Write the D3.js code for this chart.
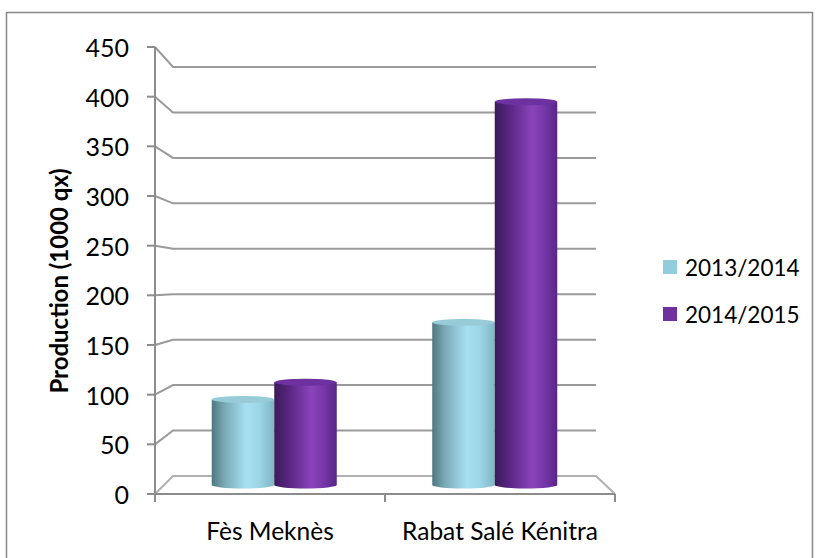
<!DOCTYPE html>
<html><head><meta charset="utf-8">
<script src="https://cdn.jsdelivr.net/npm/d3@7/dist/d3.min.js"></script>
<style>
html,body{margin:0;padding:0;background:#fff;}
svg{display:block;font-family:Lato,"Open Sans",sans-serif;}
</style></head>
<body>
<svg id="c" width="817" height="558"></svg>
<script>
const categories = ["Fès Meknès", "Rabat Salé Kénitra"];
const seriesNames = ["2013/2014", "2014/2015"];
const values2013 = [90, 171];
const values2014 = [108, 403];
const yTicks = [0, 50, 100, 150, 200, 250, 300, 350, 400, 450];
const yTitle = "Production (1000 qx)";

const seriesValues = [values2013, values2014];
const svg = d3.select("#c");

// frame
svg.append("rect").attr("x", 6.5).attr("y", 12.5).attr("width", 806).attr("height", 560)
  .attr("fill", "none").attr("stroke", "#878787").attr("stroke-width", 1.5);

const front = {x0: 155, x1: 615}, back = {x0: 173, x1: 596};
const yFront = d3.scaleLinear().domain([0, 450]).range([494, 47]);
const yBack = d3.scaleLinear().domain([0, 450]).range([476, 67]);
const yBar = d3.scaleLinear().domain([0, 450]).range([485, 57]);
const xFront = d3.scaleBand().domain(categories).range([front.x0, front.x1]);
const xBar = d3.scaleBand().domain(categories).range([164, 605]).paddingInner(0.433).paddingOuter(0.2165);
const xSub = d3.scaleBand().domain(seriesNames).range([0, xBar.bandwidth()]);

const gridCol = "#9a9a9a";
const g = svg.append("g");
yTicks.forEach(t => {
  if (t === 0) return;
  g.append("path")
    .attr("d", `M${front.x0},${yFront(t)}L${back.x0},${yBack(t)}L${back.x1},${yBack(t)}`)
    .attr("fill", "none").attr("stroke", gridCol).attr("stroke-width", 2);
});
g.append("path")
  .attr("d", `M${front.x0},${yFront(0)}L${back.x0},${yBack(0)}L${back.x1},${yBack(0)}L${front.x1},${yFront(0)}`)
  .attr("fill", "none").attr("stroke", "#b0b0b0").attr("stroke-width", 2);

const defs = svg.append("defs");
function grad(id, stops) {
  const lg = defs.append("linearGradient").attr("id", id).attr("x1", "0").attr("x2", "1").attr("y1", "0").attr("y2", "0");
  stops.forEach(s => lg.append("stop").attr("offset", s[0]).attr("stop-color", s[1]));
}
grad("gTeal", [[0, "#4f7780"], [0.2, "#79a9b5"], [0.55, "#a6e0f1"], [0.75, "#9dd6e6"], [1, "#7fb6c4"]]);
grad("gPurple", [[0, "#3a1a58"], [0.25, "#5b2785"], [0.6, "#8a44bb"], [0.8, "#7536a8"], [1, "#5a2686"]]);
const topCol = ["#98cbd8", "#6d31a0"];
const gradIds = ["gTeal", "gPurple"];
const legendCol = ["#93cddd", "#7030a0"];

const ry = 3.5;
const bars = svg.append("g");
categories.forEach((c, ci) => {
  seriesNames.forEach((s, si) => {
    const v = seriesValues[si][ci];
    const x0 = xBar(c) + xSub(s), w = xSub.bandwidth(), rx = w / 2, cx = x0 + rx;
    const yt = yBar(v), yb = yBar(0);
    bars.append("path")
      .attr("d", `M${x0},${yt}L${x0},${yb}A${rx},${ry} 0 0 0 ${x0 + w},${yb}L${x0 + w},${yt}Z`)
      .attr("fill", `url(#${gradIds[si]})`);
    bars.append("ellipse").attr("cx", cx).attr("cy", yt).attr("rx", rx).attr("ry", ry)
      .attr("fill", topCol[si]);
  });
});

const axCol = "#8c8c8c";
svg.append("line").attr("x1", front.x0).attr("x2", front.x0).attr("y1", yFront(450)).attr("y2", yFront(0) + 8)
  .attr("stroke", axCol).attr("stroke-width", 2);
svg.append("line").attr("x1", front.x0).attr("x2", front.x1).attr("y1", yFront(0)).attr("y2", yFront(0))
  .attr("stroke", axCol).attr("stroke-width", 2);
yTicks.forEach(t => {
  svg.append("line").attr("x1", front.x0 - 8).attr("x2", front.x0).attr("y1", yFront(t)).attr("y2", yFront(t))
    .attr("stroke", axCol).attr("stroke-width", 2);
  svg.append("text").attr("x", 129).attr("y", yFront(t)).attr("text-anchor", "end")
    .attr("dominant-baseline", "central").attr("font-size", 25).attr("fill", "#000").text(t);
});
const xTickPos = [front.x0, ...categories.slice(1).map(c => xFront(c)), front.x1];
xTickPos.forEach(x => {
  svg.append("line").attr("x1", x).attr("x2", x).attr("y1", yFront(0)).attr("y2", yFront(0) + 8)
    .attr("stroke", axCol).attr("stroke-width", 2);
});
categories.forEach(c => {
  svg.append("text").attr("x", xFront(c) + xFront.bandwidth() / 2).attr("y", 530)
    .attr("text-anchor", "middle").attr("dominant-baseline", "central").attr("font-size", 24.5).text(c);
});

svg.append("text").attr("transform", "translate(58,281) rotate(-90)")
  .attr("text-anchor", "middle").attr("dominant-baseline", "central")
  .attr("font-size", 24).attr("font-weight", "bold").text(yTitle);

seriesNames.forEach((s, i) => {
  const y = 267 + i * 47;
  svg.append("rect").attr("x", 663).attr("y", y - 7).attr("width", 14).attr("height", 14).attr("fill", legendCol[i]);
  svg.append("text").attr("x", 685).attr("y", y).attr("dominant-baseline", "central").attr("font-size", 22.5).text(s);
});
</script>
</body></html>
